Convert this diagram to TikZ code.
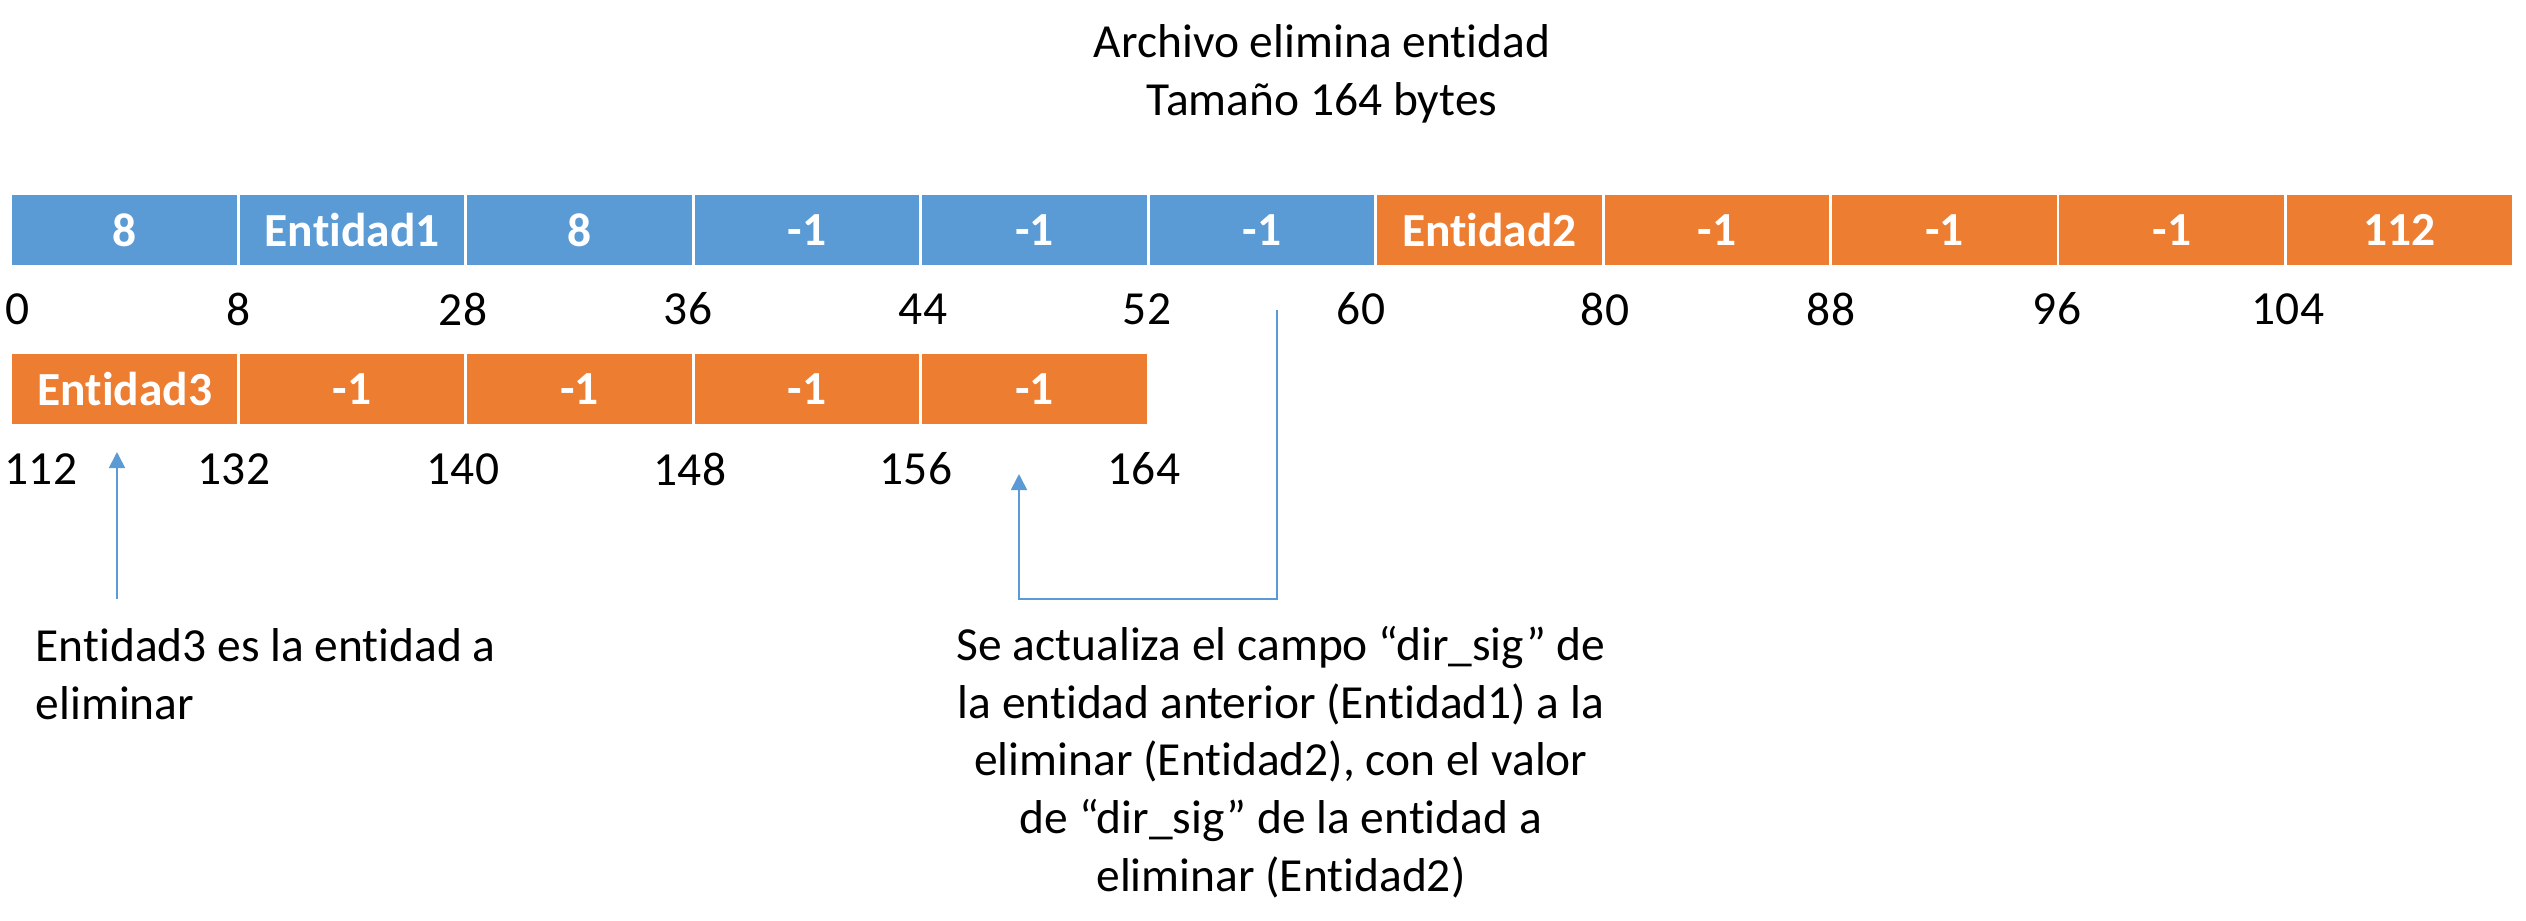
\documentclass[tikz,border=0pt]{standalone}
\usepackage{fontspec}
\setmainfont{Carlito}[Ligatures={NoCommon,NoContextual,NoRequired}, Contextuals=NoAlternate]
\usetikzlibrary{arrows.meta}

\definecolor{cellblue}{HTML}{5B9BD5}
\definecolor{cellorange}{HTML}{ED7D31}

\begin{document}
\begin{tikzpicture}[
        x=0.01cm, y=-0.01cm,
        cell/.style={rectangle, draw=white, line width=0.8pt, minimum width=2.2745cm, minimum height=0.73cm, inner sep=0pt, text=white, font=\fontsize{13.5}{16}\selectfont\bfseries},
        kept/.style={cell, fill=cellblue},
        gone/.style={cell, fill=cellorange},
        offset/.style={inner sep=0pt, font=\fontsize{13.5}{16}\selectfont},
        note/.style={inner sep=0pt, font=\fontsize{13.5}{16.4}\selectfont},
        arrow/.style={-{Triangle[width=0.16cm, length=0.16cm]}, draw=cellblue, line width=0.5pt}
    ]
    \useasboundingbox (0,0) rectangle (2526,920);

    % Title
    \node[note, align=center] (titulo) at (1322,74) {Archivo elimina entidad\\Tamaño 164 bytes};

    % First row of the file
    \node[kept] (head) at (124.7,230) {8};
    \node[kept] (ent1) at (352.2,230) {Entidad1};
    \node[kept] (sig1) at (579.6,230) {8};
    \node[kept] (ent1a) at (807.1,230) {-1};
    \node[kept] (ent1b) at (1034.5,230) {-1};
    \node[kept] (ent1c) at (1262,230) {-1};
    \node[gone] (ent2) at (1489.4,230) {Entidad2};
    \node[gone] (ent2a) at (1716.9,230) {-1};
    \node[gone] (ent2b) at (1944.3,230) {-1};
    \node[gone] (ent2c) at (2171.8,230) {-1};
    \node[gone] (sig2) at (2399.2,230) {112};

    % Offsets of the first row
    \node[offset] (off0) at (18,309) {0};
    \node[offset] (off8) at (239,309) {8};
    \node[offset] (off28) at (463,309) {28};
    \node[offset] (off36) at (688,309) {36};
    \node[offset] (off44) at (923,309) {44};
    \node[offset] (off52) at (1147,309) {52};
    \node[offset] (off60) at (1361,309) {60};
    \node[offset] (off80) at (1605,309) {80};
    \node[offset] (off88) at (1831,309) {88};
    \node[offset] (off96) at (2057,309) {96};
    \node[offset] (off104) at (2288,309) {104};

    % Second row of the file
    \node[gone] (ent3) at (124.7,389) {Entidad3};
    \node[gone] (ent3a) at (352.2,389) {-1};
    \node[gone] (ent3b) at (579.6,389) {-1};
    \node[gone] (ent3c) at (807.1,389) {-1};
    \node[gone] (ent3d) at (1034.5,389) {-1};

    % Offsets of the second row
    \node[offset] (off112) at (41,469) {112};
    \node[offset] (off132) at (234,469) {132};
    \node[offset] (off140) at (463,469) {140};
    \node[offset] (off148) at (690,469) {148};
    \node[offset] (off156) at (916,469) {156};
    \node[offset] (off164) at (1144,469) {164};

    % Notes
    \node[note, anchor=west, align=left] (nota1) at (35,674) {Entidad3 es la entidad a\\eliminar};
    \node[note, align=center] (nota2) at (1281,762) {Se actualiza el campo “dir\_sig” de\\la entidad anterior (Entidad1) a la\\eliminar (Entidad2), con el valor\\de “dir\_sig” de la entidad a\\eliminar (Entidad2)};

    % Pointers
    \coordinate (tail1) at (117,599);
    \coordinate (tip1) at (117,452);
    \coordinate (tail2) at (1277,310);
    \coordinate (bend2) at (1277,599);
    \coordinate (tip2) at (1019,474);

    \draw[arrow] (tail1) -- (tip1);
    \draw[arrow] (tail2) -- (bend2) -| (tip2);

\end{tikzpicture}
\end{document}
